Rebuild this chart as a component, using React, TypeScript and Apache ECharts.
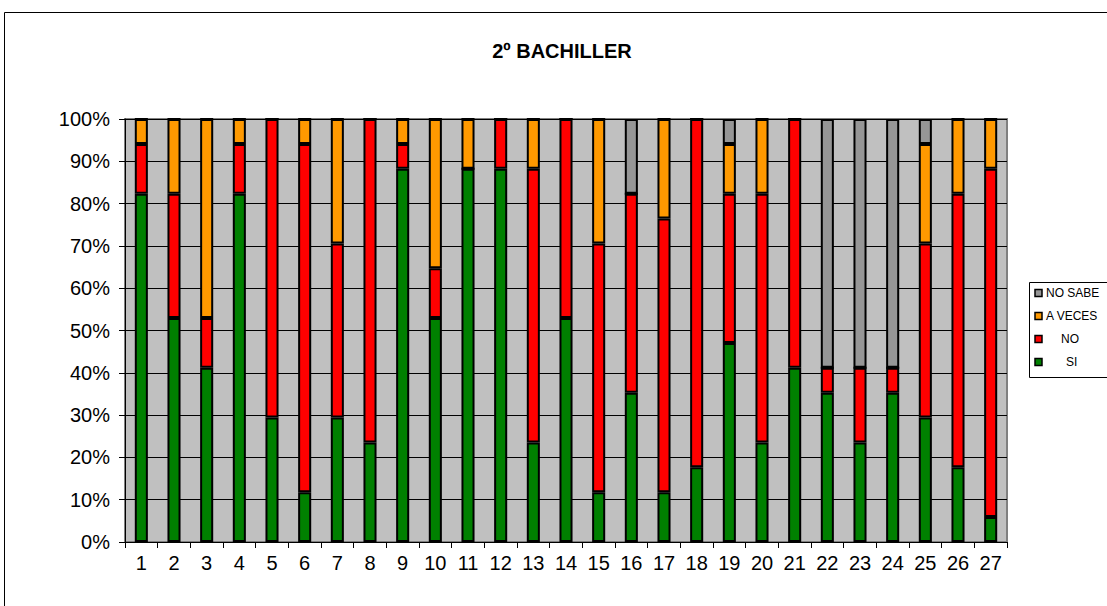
import React, { useEffect, useRef } from "react";
import * as echarts from "echarts";

const TITLE = "2º BACHILLER";
const categories = ["1","2","3","4","5","6","7","8","9","10","11","12","13","14","15","16","17","18","19","20","21","22","23","24","25","26","27"];
const seriesNames = ["SI", "NO", "A VECES", "NO SABE"];
// answer counts per question (17 respondents)
const si =      [14, 9, 7,14, 5, 2, 5, 4,15, 9,15,15, 4, 9, 2, 6, 2, 3, 8, 4, 7, 6, 4, 6, 5, 3, 1];
const no =      [ 2, 5, 2, 2,12,14, 7,13, 1, 2, 0, 2,11, 8,10, 8,11,14, 6,10,10, 1, 3, 1, 7,11,14];
const aVeces =  [ 1, 3, 8, 1, 0, 1, 5, 0, 1, 6, 2, 0, 2, 0, 5, 0, 4, 0, 2, 3, 0, 0, 0, 0, 4, 3, 2];
const noSabe =  [ 0, 0, 0, 0, 0, 0, 0, 0, 0, 0, 0, 0, 0, 0, 0, 3, 0, 0, 1, 0, 0,10,10,10, 1, 0, 0];
const colors = ["#008000", "#FF0000", "#FF9900", "#969696"];
const yTicks = [0, 10, 20, 30, 40, 50, 60, 70, 80, 90, 100];

export default function App() {
  const ref = useRef<HTMLDivElement>(null);
  useEffect(() => {
    if (!ref.current) return;
    const chart = echarts.init(ref.current, null, { renderer: "svg" });
    const raw = [si, no, aVeces, noSabe];
    const totals = categories.map((_, i) => raw.reduce((s, arr) => s + arr[i], 0));
    const series = raw.map((arr, k) => ({
      name: seriesNames[k],
      type: "bar",
      stack: "total",
      barWidth: "40%",
      data: arr.map((v, i) => (v / totals[i]) * 100),
      itemStyle: { color: colors[k], borderColor: "#000", borderWidth: 2 },
    }));
    const legendItems = [3, 2, 1, 0];
    const legendText = ["NO SABE", "A VECES", "NO", "SI"];
    const legendTextX = [1046, 1046, 1061, 1066];
    const graphics: any[] = [
      { type: "rect", shape: { x: 4.5, y: 12.5, width: 1200, height: 700 }, style: { fill: "none", stroke: "#000", lineWidth: 1 }, silent: true },
      { type: "rect", shape: { x: 1029.5, y: 282.5, width: 100, height: 95 }, style: { fill: "#fff", stroke: "#000", lineWidth: 1 } },
    ];
    legendItems.forEach((k, j) => {
      const cy = 293 + j * 23;
      graphics.push({ type: "rect", shape: { x: 1035, y: cy - 3.5, width: 7, height: 7 }, style: { fill: colors[k], stroke: "#000", lineWidth: 1.5 } });
      graphics.push({ type: "text", x: legendTextX[j], y: cy, style: { text: legendText[j], fill: "#000", font: "12px Arial, 'Liberation Sans'", verticalAlign: "middle", textAlign: "left" } });
    });
    chart.setOption({
      animation: false,
      backgroundColor: "#fff",
      title: {
        text: TITLE,
        left: 557,
        top: 36,
        textAlign: "center",
        textStyle: { fontFamily: "Arial, 'Liberation Sans'", fontWeight: "bold", fontSize: 20, color: "#000" },
      },
      grid: { left: 125, top: 119, right: 100, bottom: 64, show: true, backgroundColor: "#C0C0C0", borderColor: "#808080", borderWidth: 2 },
      xAxis: {
        type: "category",
        data: categories,
        axisLine: { lineStyle: { color: "#000", width: 1 } },
        axisTick: { show: true, interval: 0, alignWithLabel: false, length: 6, lineStyle: { color: "#000" } },
        axisLabel: { color: "#000", fontSize: 20, fontFamily: "Arial, 'Liberation Sans'", margin: 11, interval: 0 },
      },
      yAxis: {
        type: "value",
        min: yTicks[0],
        max: yTicks[yTicks.length - 1],
        interval: 10,
        axisLine: { show: true, lineStyle: { color: "#000", width: 1 } },
        axisTick: { show: true, length: 6, lineStyle: { color: "#000" } },
        axisLabel: { color: "#000", fontSize: 20, fontFamily: "Arial, 'Liberation Sans'", formatter: "{value}%", margin: 15 },
        splitLine: { show: true, lineStyle: { color: "#000", width: 1 } },
      },
      series,
      graphic: graphics,
    });
    return () => chart.dispose();
  }, []);
  return <div ref={ref} style={{ position: "fixed", left: 0, top: 0, width: 1107, height: 606 }} />;
}
